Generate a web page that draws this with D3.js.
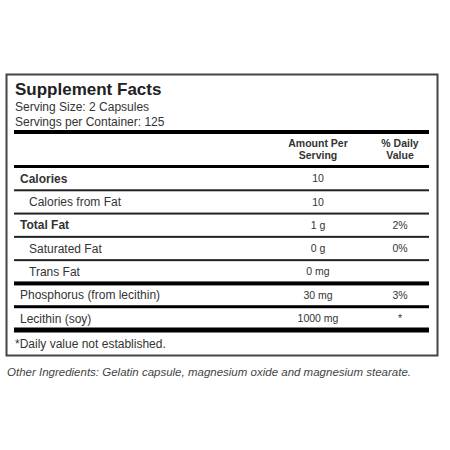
<!DOCTYPE html>
<html><head><meta charset="utf-8">
<script src="https://cdn.jsdelivr.net/npm/d3@7"></script>
<style>body{margin:0;background:#fff}svg{display:block}</style>
</head><body><div id="vis"></div>
<script>
// label table
var nutrients = ['Calories', 'Calories from Fat', 'Total Fat', 'Saturated Fat', 'Trans Fat', 'Phosphorus (from lecithin)', 'Lecithin (soy)'];
var amounts = ['10', '10', '1 g', '0 g', '0 mg', '30 mg', '1000 mg'];
var dailyValues = ['', '', '2%', '0%', '', '3%', '*'];
var isBold = [true, false, true, false, false, false, false];
var isIndented = [false, true, false, true, true, false, false];
var ruleBelow = [2, 2, 2, 2, 4, 3, 5];

var width = 450, height = 450;
var svg = d3.select('#vis').append('svg').attr('width', width).attr('height', height)
	.style('font-family', 'Liberation Sans, Arial, sans-serif');

var ink = '#333';

// outer box
svg.append('rect').attr('x', 6.5).attr('y', 74.5).attr('width', 431).attr('height', 281)
	.attr('fill', 'none').attr('stroke', '#444').attr('stroke-width', 2);

svg.append('text').attr('x', 15).attr('y', 95).attr('font-size', 17).attr('font-weight', 'bold')
	.attr('fill', '#222').text('Supplement Facts');
svg.append('text').attr('x', 15).attr('y', 111).attr('font-size', 12).attr('fill', ink).text('Serving Size: 2 Capsules');
svg.append('text').attr('x', 15).attr('y', 126).attr('font-size', 12).attr('fill', ink).text('Servings per Container: 125');

var x0 = 14, x1 = 429, colAmt = 318, colDv = 400;

svg.append('rect').attr('x', x0).attr('y', 130).attr('width', x1 - x0).attr('height', 4).attr('fill', '#000');
[['Amount Per', 'Serving', colAmt], ['% Daily', 'Value', colDv]].forEach(function (h) {
	var t = svg.append('text').attr('text-anchor', 'middle').attr('font-size', 10.5)
		.attr('font-weight', 'bold').attr('fill', ink);
	t.append('tspan').attr('x', h[2]).attr('y', 147).text(h[0]);
	t.append('tspan').attr('x', h[2]).attr('y', 159).text(h[1]);
});
svg.append('rect').attr('x', x0).attr('y', 165).attr('width', x1 - x0).attr('height', 3).attr('fill', '#000');

var y = d3.scaleBand().domain(d3.range(nutrients.length)).range([167, 330]);

var rows = svg.selectAll('.row').data(nutrients).enter().append('g').attr('class', 'row')
	.attr('transform', function (d, i) { return 'translate(0,' + (y(i) + y.bandwidth() / 2) + ')'; });

rows.append('text').attr('x', function (d, i) { return isIndented[i] ? 29 : 20; })
	.attr('dy', '0.35em').attr('font-size', 12).attr('fill', ink)
	.attr('font-weight', function (d, i) { return isBold[i] ? 'bold' : 'normal'; })
	.text(function (d) { return d; });
rows.append('text').attr('x', colAmt).attr('dy', '0.35em').attr('text-anchor', 'middle')
	.attr('font-size', 10.5).attr('fill', ink).text(function (d, i) { return amounts[i]; });
rows.append('text').attr('x', colDv).attr('dy', '0.35em').attr('text-anchor', 'middle')
	.attr('font-size', 10.5).attr('fill', ink).text(function (d, i) { return dailyValues[i]; });

rows.append('rect').attr('x', x0).attr('width', x1 - x0)
	.attr('y', function (d, i) { return y.bandwidth() / 2 - ruleBelow[i] / 2; })
	.attr('height', function (d, i) { return ruleBelow[i]; })
	.attr('fill', function (d, i) { return ruleBelow[i] > 2 ? '#000' : '#222'; });

svg.append('text').attr('x', 15).attr('y', 348).attr('font-size', 12).attr('fill', ink)
	.text('*Daily value not established.');

svg.append('text').attr('x', 7).attr('y', 376).attr('font-size', 11.5).attr('font-style', 'italic')
	.attr('fill', '#444').text('Other Ingredients: Gelatin capsule, magnesium oxide and magnesium stearate.');
</script>
</body></html>
